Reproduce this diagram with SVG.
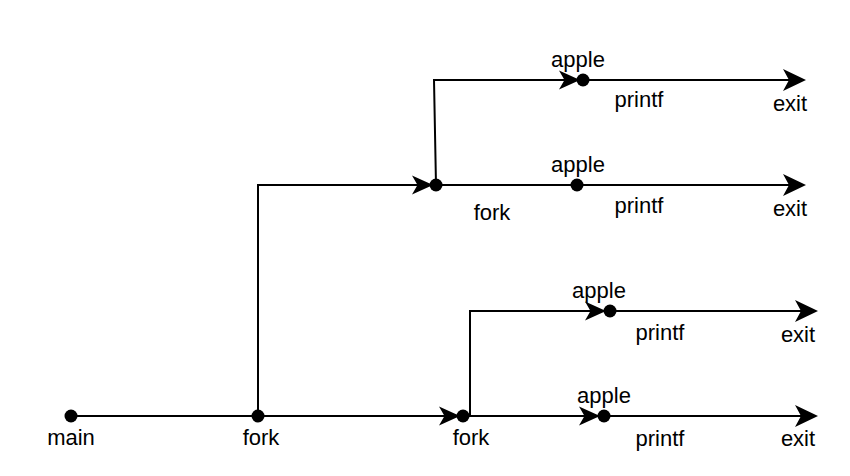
<svg xmlns="http://www.w3.org/2000/svg" width="850" height="476" viewBox="0 0 850 476">
<style>
.ln{fill:none;stroke:#000;stroke-width:2}
.dot{fill:#000}
.t{font-family:"Liberation Sans",Arial,sans-serif;font-size:22px;fill:#000;text-anchor:middle}
</style>
<defs>
<marker id="big" markerUnits="userSpaceOnUse" viewBox="0 -12 24 24" markerWidth="24" markerHeight="24" refX="17" refY="0" orient="auto">
<path d="M0,-11 L23,0 L0,11 L6,0 Z" fill="#000"/>
</marker>
<marker id="small" markerUnits="userSpaceOnUse" viewBox="0 -10 22 20" markerWidth="22" markerHeight="20" refX="15" refY="0" orient="auto">
<path d="M0,-9.5 L21,0 L0,9.5 L5.5,0 Z" fill="#000"/>
</marker>
</defs>
<rect width="850" height="476" fill="#fff"/>
<g id="connectors">
<path class="ln" d="M71,416 H258"/>
<path class="ln" d="M258,416 H454" marker-end="url(#small)"/>
<path class="ln" d="M463,416 H594" marker-end="url(#small)"/>
<path class="ln" d="M604,416 H812" marker-end="url(#big)"/>
<path class="ln" d="M470,416 V311 H600" marker-end="url(#small)"/>
<path class="ln" d="M610,311 H812" marker-end="url(#big)"/>
<path class="ln" d="M258,416 V185 H427" marker-end="url(#small)"/>
<path class="ln" d="M436,185 H800" marker-end="url(#big)"/>
<path class="ln" d="M436,185 L434,80 H574" marker-end="url(#small)"/>
<path class="ln" d="M583,80 H800" marker-end="url(#big)"/>
</g>
<g id="main"><circle class="dot" cx="71" cy="416" r="6.5"/><text class="t" x="71" y="445">main</text></g>
<g id="fork1"><circle class="dot" cx="258" cy="416" r="6.5"/><text class="t" x="261" y="445">fork</text></g>
<g id="fork2"><circle class="dot" cx="463" cy="416" r="6.5"/><text class="t" x="471" y="445">fork</text></g>
<g id="fork3"><circle class="dot" cx="436" cy="185" r="6.5"/><text class="t" x="492" y="220">fork</text></g>
<g id="apple1"><circle class="dot" cx="583" cy="80" r="6.5"/><text class="t" x="578" y="67">apple</text><text class="t" x="639" y="107">printf</text></g>
<g id="apple2"><circle class="dot" cx="577" cy="185" r="6.5"/><text class="t" x="578" y="172">apple</text><text class="t" x="639" y="213">printf</text></g>
<g id="apple3"><circle class="dot" cx="610" cy="311" r="6.5"/><text class="t" x="599" y="298">apple</text><text class="t" x="660" y="340">printf</text></g>
<g id="apple4"><circle class="dot" cx="604" cy="416" r="6.5"/><text class="t" x="604" y="403">apple</text><text class="t" x="660" y="446">printf</text></g>
<g id="exit1"><text class="t" x="790" y="111">exit</text></g>
<g id="exit2"><text class="t" x="790" y="216">exit</text></g>
<g id="exit3"><text class="t" x="798" y="342">exit</text></g>
<g id="exit4"><text class="t" x="798" y="446">exit</text></g>
</svg>
